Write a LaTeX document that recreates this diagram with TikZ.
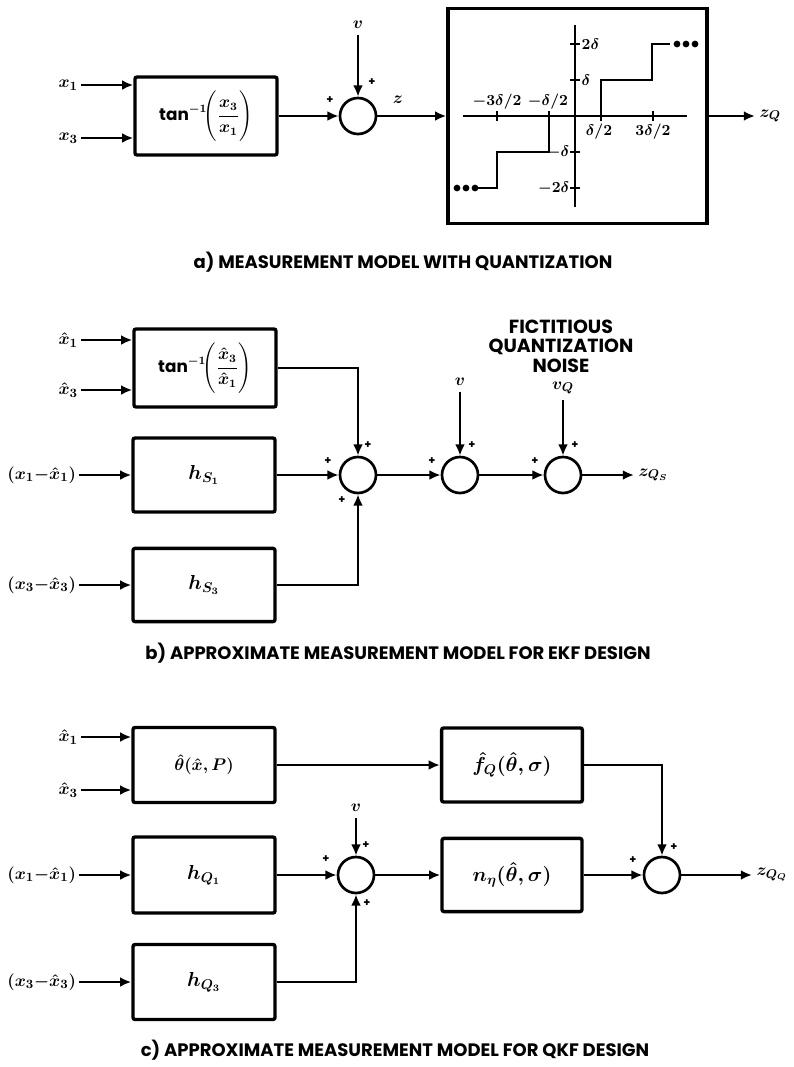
\documentclass[tikz,border=0pt]{standalone}
\usepackage{amsmath}
\usepackage{fontspec}
\setmainfont{Poppins}
\usetikzlibrary{arrows.meta,positioning,calc}
\tikzset{
  >={Latex[length=8pt,width=7pt]},
  blk/.style={rectangle, draw, line width=2.4pt, rounded corners=1.5pt, minimum width=3.55cm, minimum height=1.9cm, inner sep=0pt, font=\boldmath\fontsize{14}{17}\selectfont},
  sumnode/.style={circle, draw, line width=1.9pt, minimum size=0.9cm, inner sep=0pt},
  sig/.style={->, line width=1.6pt},
  axis/.style={line width=1.3pt},
  stair/.style={line width=2pt},
  inlbl/.style={anchor=east, inner sep=2pt, font=\boldmath\fontsize{13}{15}\selectfont},
  outlbl/.style={anchor=west, inner sep=3pt, font=\boldmath\fontsize{13}{15}\selectfont},
  noise/.style={inner sep=4pt, font=\boldmath\fontsize{13}{15}\selectfont},
  pls/.style={font=\bfseries\fontsize{8}{8}\selectfont, inner sep=0pt},
  tick/.style={inner sep=1pt, font=\boldmath\fontsize{11}{12}\selectfont},
  capt/.style={font=\bfseries\fontsize{12.8}{15}\selectfont}
}

\begin{document}
\begin{tikzpicture}[x=0.025cm, y=-0.025cm]
\useasboundingbox (0,0) rectangle (794,1067);

% --- a) Measurement model with quantization ---
\node[blk, minimum height=1.95cm, font=\boldmath\fontsize{12}{14}\selectfont] (tana) at (206,116) {$\tan^{-1}\!\Biggl(\dfrac{x_3}{x_1}\Biggr)$};
\node[inlbl] (ax1) at (81,85) {$x_1$};
\node[inlbl] (ax3) at (81,138) {$x_3$};
\draw[sig] (ax1.east) -- (ax1.east -| tana.west);
\draw[sig] (ax3.east) -- (ax3.east -| tana.west);

\node[sumnode] (suma) at (358,116) {};
\node[noise] (av) at (358,25) {$v$};
\draw[sig] (tana.east) -- (suma.west);
\draw[sig] (av) -- (suma.north);
\node[pls] at (330,100) {+};
\node[pls] at (372,82) {+};
\node[noise] (az) at (398,100) {$z$};

% quantizer characteristic
\node[draw, line width=2.4pt, minimum width=6.475cm, minimum height=5.375cm] (quant) at (577.5,116) {};
\draw[sig] (suma.east) -- (quant.west);
\draw[axis] (463,116) -- (687,116);
\draw[axis] (575,25) -- (575,207);
\foreach \t in {-3,-1,1,3} {
    \draw[axis] ({575+26*\t},111) -- ({575+26*\t},121);
}
\foreach \t in {-2,-1,1,2} {
    \draw[axis] (570,{116-36*\t}) -- (580,{116-36*\t});
}
\node[tick] at (497,102) {$-3\delta/2$};
\node[tick] at (548,102) {$-\delta/2$};
\node[tick] at (599,132) {$\delta/2$};
\node[tick] at (653,132) {$3\delta/2$};
\node[tick, anchor=west] at (580,44) {$2\delta$};
\node[tick, anchor=west] at (580,80) {$\delta$};
\node[tick, anchor=east] at (571,152) {$-\delta$};
\node[tick, anchor=east] at (571,188) {$-2\delta$};
\draw[stair] (601,116) -- (601,80) -- (652,80) -- (652,44) -- (670,44);
\draw[stair] (549,116) -- (549,152) -- (497,152) -- (497,188) -- (478,188);
\foreach \d in {677,686,695} { \fill (\d,44) circle (2.4pt); }
\foreach \d in {457,466,475} { \fill (\d,188) circle (2.4pt); }

\node[outlbl] (azq) at (755,116) {$z_Q$};
\draw[sig] (quant.east) -- (azq.west);

\node[capt] (capa) at (403,262) {a) MEASUREMENT MODEL WITH QUANTIZATION};

% --- b) Approximate model for EKF design ---
\node[blk, minimum height=1.95cm, font=\boldmath\fontsize{12}{14}\selectfont] (tanb) at (205,368) {$\tan^{-1}\!\Biggl(\dfrac{\hat{x}_3}{\hat{x}_1}\Biggr)$};
\node[inlbl] (bx1) at (81,340) {$\hat{x}_1$};
\node[inlbl] (bx3) at (81,390) {$\hat{x}_3$};
\draw[sig] (bx1.east) -- (bx1.east -| tanb.west);
\draw[sig] (bx3.east) -- (bx3.east -| tanb.west);

\node[blk, minimum height=1.85cm] (hs1) at (204,475) {$h_{S_1}$};
\node[blk, minimum height=1.83cm] (hs3) at (204,585) {$h_{S_3}$};
\node[inlbl] (bd1) at (79,475) {$(x_1{-}\hat{x}_1)$};
\node[inlbl] (bd3) at (79,585) {$(x_3{-}\hat{x}_3)$};
\draw[sig] (bd1.east) -- (hs1.west);
\draw[sig] (bd3.east) -- (hs3.west);

\node[sumnode] (sumb1) at (358,475) {};
\node[sumnode] (sumb2) at (460,475) {};
\node[sumnode] (sumb3) at (563,475) {};
\draw[sig] (tanb.east) -| (sumb1.north);
\draw[sig] (hs1.east) -- (sumb1.west);
\draw[sig] (hs3.east) -| (sumb1.south);
\draw[sig] (sumb1.east) -- (sumb2.west);
\draw[sig] (sumb2.east) -- (sumb3.west);

\node[noise] (bv) at (460,382) {$v$};
\node[noise] (bvq) at (563,388) {$v_Q$};
\node[align=center, font=\bfseries\fontsize{13.5}{14}\selectfont] (bnote) at (561,346) {FICTITIOUS\\QUANTIZATION\\NOISE};
\draw[sig] (bv) -- (sumb2.north);
\draw[sig] (bvq) -- (sumb3.north);

\node[pls] at (328,461) {+};
\node[pls] at (368,445) {+};
\node[pls] at (342,500) {+};
\node[pls] at (432,461) {+};
\node[pls] at (472,445) {+};
\node[pls] at (535,461) {+};
\node[pls] at (575,445) {+};

\node[outlbl] (bzq) at (634,475) {$z_{Q_S}$};
\draw[sig] (sumb3.east) -- (bzq.west);

\node[capt] (capb) at (398,653) {b) APPROXIMATE MEASUREMENT MODEL FOR EKF DESIGN};

% --- c) Approximate model for QKF design ---
\node[blk, minimum height=1.875cm, font=\boldmath\fontsize{13}{15}\selectfont] (thb) at (204,765) {$\hat{\theta}(\hat{x},P)$};
\node[inlbl] (cx1) at (81,737) {$\hat{x}_1$};
\node[inlbl] (cx3) at (81,790) {$\hat{x}_3$};
\draw[sig] (cx1.east) -- (cx1.east -| thb.west);
\draw[sig] (cx3.east) -- (cx3.east -| thb.west);

\node[blk, minimum width=3.52cm, minimum height=1.85cm] (fq) at (512,765) {$\hat{f}_Q(\hat{\theta},\sigma)$};
\draw[sig] (thb.east) -- (fq.west);

\node[blk, minimum height=1.9cm] (hq1) at (204,875) {$h_{Q_1}$};
\node[blk, minimum height=1.875cm] (hq3) at (204,982) {$h_{Q_3}$};
\node[inlbl] (cd1) at (79,875) {$(x_1{-}\hat{x}_1)$};
\node[inlbl] (cd3) at (79,982) {$(x_3{-}\hat{x}_3)$};
\draw[sig] (cd1.east) -- (hq1.west);
\draw[sig] (cd3.east) -- (hq3.west);

\node[sumnode] (sumc1) at (356,875) {};
\node[noise] (cv) at (356,808) {$v$};
\draw[sig] (cv) -- (sumc1.north);
\draw[sig] (hq1.east) -- (sumc1.west);
\draw[sig] (hq3.east) -| (sumc1.south);

\node[blk, minimum width=3.5cm, minimum height=1.83cm] (neta) at (512,875) {$n_\eta(\hat{\theta},\sigma)$};
\node[sumnode] (sumc2) at (662,875) {};
\draw[sig] (sumc1.east) -- (neta.west);
\draw[sig] (neta.east) -- (sumc2.west);
\draw[sig] (fq.east) -| (sumc2.north);

\node[pls] at (326,859) {+};
\node[pls] at (366,845) {+};
\node[pls] at (367,903) {+};
\node[pls] at (633,860) {+};
\node[pls] at (674,847) {+};

\node[outlbl] (czq) at (752,875) {$z_{Q_Q}$};
\draw[sig] (sumc2.east) -- (czq.west);

\node[capt] (capc) at (395,1050) {c) APPROXIMATE MEASUREMENT MODEL FOR QKF DESIGN};

\end{tikzpicture}
\end{document}
